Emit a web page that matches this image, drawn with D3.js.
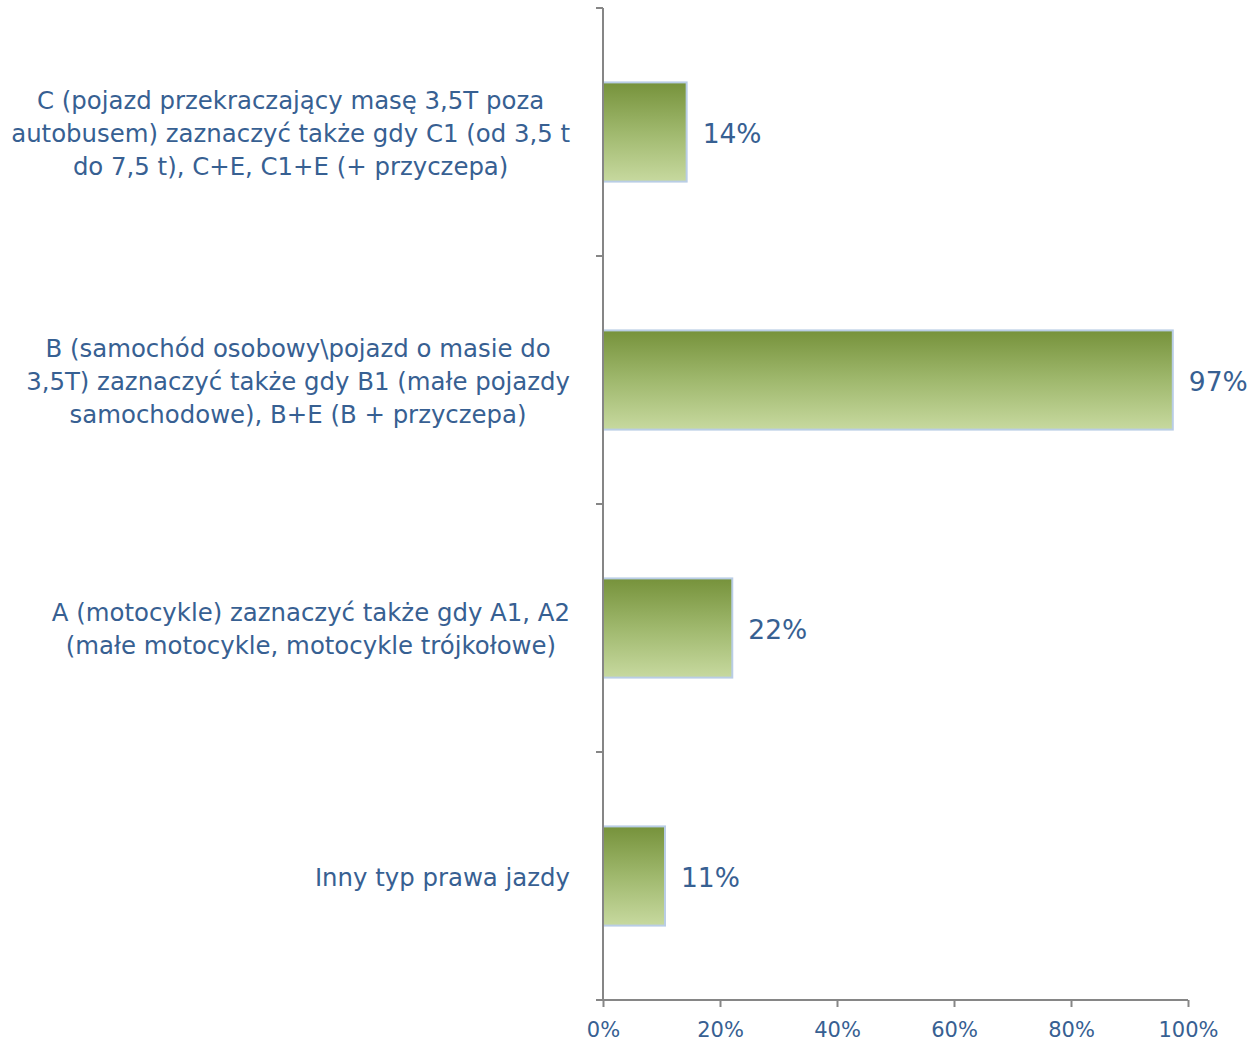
<!DOCTYPE html>
<html><head><meta charset="utf-8">
<script src="https://cdn.jsdelivr.net/npm/d3@7"></script>
<style>body{margin:0;background:#fff}</style>
</head><body><svg id="c" width="1249" height="1041"></svg>
<script>
const categories = [
  ["C (pojazd przekraczający masę 3,5T poza", "autobusem) zaznaczyć także gdy C1 (od 3,5 t", "do 7,5 t), C+E, C1+E (+ przyczepa)"],
  ["B (samochód osobowy\\pojazd o masie do", "3,5T) zaznaczyć także gdy B1 (małe pojazdy", "samochodowe), B+E (B + przyczepa)"],
  ["A (motocykle) zaznaczyć także gdy A1, A2", "(małe motocykle, motocykle trójkołowe)"],
  ["Inny typ prawa jazdy"]
];
const values = [14.3, 97.4, 22.1, 10.6];
const tickValues = [0, 20, 40, 60, 80, 100];

const svg = d3.select("#c");
const font = "'DejaVu Sans', sans-serif";
const textCol = "#376092";
const axisCol = "#868686";
const m = {left: 603, right: 1188, top: 8, bottom: 1000};

const x = d3.scaleLinear().domain([0, 100]).range([m.left, m.right]);
const y = d3.scaleBand().domain(d3.range(categories.length)).range([m.top, m.bottom]).paddingInner(0.6).paddingOuter(0.3);
const yb = d3.scaleBand().domain(d3.range(categories.length)).range([m.top, m.bottom]);

const defs = svg.append("defs");
const g = defs.append("linearGradient").attr("id", "gr").attr("x1", 0).attr("y1", 0).attr("x2", 0).attr("y2", 1);
g.append("stop").attr("offset", "0%").attr("stop-color", "#76923b");
g.append("stop").attr("offset", "50%").attr("stop-color", "#9fb86d");
g.append("stop").attr("offset", "100%").attr("stop-color", "#c7d99f");

// bars
svg.selectAll("rect.bar").data(values).join("rect").attr("class", "bar")
  .attr("x", x(0)).attr("y", (d, i) => y(i))
  .attr("width", d => x(d) - x(0)).attr("height", y.bandwidth())
  .attr("fill", "url(#gr)").attr("stroke", "#b9cde5").attr("stroke-width", 2);

// value labels
svg.selectAll("text.val").data(values).join("text").attr("class", "val")
  .attr("x", d => x(d) + 16).attr("y", (d, i) => y(i) + y.bandwidth() / 2 + 2)
  .attr("dy", "0.35em").attr("font-family", font).attr("font-size", 26.5).attr("fill", textCol)
  .text(d => Math.round(d) + "%");

// y axis
svg.append("line").attr("x1", m.left).attr("x2", m.left).attr("y1", m.top).attr("y2", m.bottom)
  .attr("stroke", axisCol).attr("stroke-width", 2);
const yTicks = d3.range(categories.length + 1).map(i => i < categories.length ? yb(i) : m.bottom);
svg.selectAll("line.yt").data(yTicks).join("line").attr("class", "yt")
  .attr("x1", m.left - 7).attr("x2", m.left).attr("y1", d => d).attr("y2", d => d)
  .attr("stroke", axisCol).attr("stroke-width", 2);

// x axis
const xa = svg.append("g").attr("transform", `translate(0,${m.bottom})`)
  .call(d3.axisBottom(x).tickValues(tickValues).tickFormat(d => d + "%").tickSizeInner(7).tickSizeOuter(0));
xa.select(".domain").attr("stroke", axisCol).attr("stroke-width", 2).attr("d", `M${m.left - 7},0H${m.right}`);
xa.selectAll(".tick line").attr("stroke", axisCol).attr("stroke-width", 2);
xa.selectAll(".tick text").attr("font-family", font).attr("font-size", 21).attr("fill", textCol).attr("dy", "1.3em");

// category labels
const labelRight = 570, lh = 33;
categories.forEach((lines, i) => {
  const cy = yb(i) + yb.bandwidth() / 2 + 1;
  const gg = svg.append("g");
  const ts = lines.map((l, k) => gg.append("text").attr("font-family", font).attr("font-size", 24.4)
    .attr("fill", textCol).attr("text-anchor", "middle")
    .attr("y", cy + (k - (lines.length - 1) / 2) * lh).attr("dy", "0.35em").text(l));
  const mw = d3.max(ts, t => t.node().getComputedTextLength());
  ts.forEach(t => t.attr("x", labelRight - mw / 2));
});
</script></body></html>
